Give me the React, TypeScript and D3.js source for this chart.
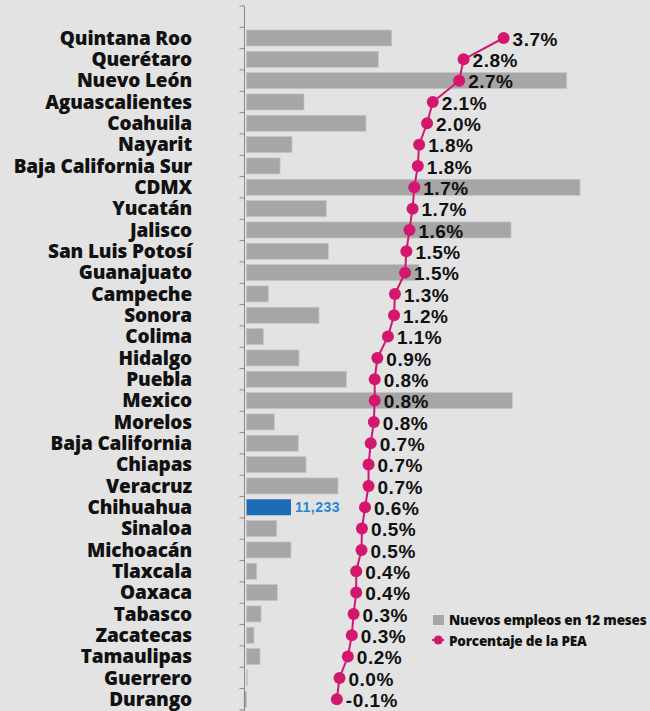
import React from 'react';
import * as d3 from 'd3';

// estados ordenados por porcentaje de la PEA
const states = [
  'Quintana Roo', 'Querétaro', 'Nuevo León', 'Aguascalientes', 'Coahuila', 'Nayarit',
  'Baja California Sur', 'CDMX', 'Yucatán', 'Jalisco', 'San Luis Potosí', 'Guanajuato',
  'Campeche', 'Sonora', 'Colima', 'Hidalgo', 'Puebla', 'Mexico', 'Morelos',
  'Baja California', 'Chiapas', 'Veracruz', 'Chihuahua', 'Sinaloa', 'Michoacán',
  'Tlaxcala', 'Oaxaca', 'Tabasco', 'Zacatecas', 'Tamaulipas', 'Guerrero', 'Durango',
];

// nuevos empleos en 12 meses
const empleos = [
  36650, 33270, 80820, 14510, 30160, 11480, 8460, 84180, 20140, 66760, 20650, 43540,
  5500, 18300, 4240, 13250, 25190, 67090, 7020, 13070, 15020, 23090, 11233, 7620,
  11230, 2570, 7770, 3660, 1890, 3410, 200, -630,
];

// porcentaje de la PEA
const pea = [
  3.73, 2.82, 2.72, 2.12, 1.99, 1.81, 1.78, 1.7, 1.66, 1.59, 1.52, 1.49,
  1.26, 1.24, 1.1, 0.86, 0.8, 0.8, 0.78, 0.71, 0.66, 0.66, 0.58, 0.51,
  0.5, 0.38, 0.38, 0.32, 0.28, 0.19, 0.0, -0.06,
];

const highlight = 'Chihuahua';

const legendItems = ['Nuevos empleos en 12 meses', 'Porcentaje de la PEA'];

const W = 650;
const H = 711;
const BG = '#e3e3e3';
const GRAY = '#a6a6a6';
const BLUE = '#1e6bb8';
const PINK = '#d3176f';
const LABEL_FONT = "'Open Sans', Lato, sans-serif";

const App = () => {
  const slots = ['', ...states];
  const y = d3.scaleBand<string>().domain(slots).range([6, 6 + 33 * 21.33]).paddingInner(0.25).paddingOuter(0.125);
  const xBar = d3.scaleLinear().domain([0, 90000]).range([246.5, 246.5 + 90000 / 252.4]);
  const xPct = d3.scaleLinear().domain([0, 1]).range([339.5, 383.5]);
  const fmt = d3.format(',');

  const cy = (s: string) => (y(s) ?? 0) + y.bandwidth() / 2;
  const pts = states.map((s, i) => ({ s, v: pea[i], x: xPct(pea[i]), y: cy(s) }));
  const line = d3.line<{ x: number; y: number }>().x(d => d.x).y(d => d.y);

  const step = y.step();
  const tickYs = d3.range(0, 34).map(i => 6 + i * step);

  return (
    <div style={{ position: 'absolute', left: 0, top: 0 }}>
      <svg width={W} height={H} style={{ display: 'block', background: BG }}>
        <rect width={W} height={H} fill={BG} />

        {/* barras */}
        {states.map((s, i) => {
          const v = empleos[i];
          const x0 = xBar(Math.min(0, v));
          const x1 = xBar(Math.max(0, v));
          const hl = s === highlight;
          return (
            <rect key={s} x={x0} y={y(s)} width={Math.max(0.5, x1 - x0)} height={y.bandwidth()}
              fill={hl ? BLUE : GRAY} stroke={hl ? 'none' : '#c4c4c4'} strokeWidth={0.8} />
          );
        })}
        {states.map((s, i) => s === highlight ? (
          <text key={'v' + s} x={xBar(empleos[i]) + 4} y={cy(s)} dy="0.35em"
            fontFamily="'Liberation Sans', Arial, sans-serif" fontWeight={700} fontSize={14}
            letterSpacing={0.5} fill="#2a86d6">{fmt(empleos[i])}</text>
        ) : null)}

        {/* eje */}
        <line x1={244.5} x2={244.5} y1={6} y2={H} stroke="#8a8a8a" strokeWidth={1} />
        {tickYs.map((t, i) => (
          <line key={i} x1={239.5} x2={244.5} y1={t} y2={t} stroke="#8a8a8a" strokeWidth={1} />
        ))}

        {/* nombres */}
        {states.map(s => (
          <text key={'n' + s} x={192} y={cy(s)} dy="0.36em" textAnchor="end"
            fontFamily={LABEL_FONT} fontWeight={800} fontSize={19} letterSpacing={-0.15}
            fill="#111">{s}</text>
        ))}

        {/* linea PEA */}
        <path d={line(pts) ?? ''} fill="none" stroke={PINK} strokeWidth={2} />
        {pts.map(p => (
          <circle key={'c' + p.s} cx={p.x} cy={p.y} r={6} fill={PINK} />
        ))}
        {pts.map(p => (
          <text key={'p' + p.s} x={p.x + 9} y={p.y + 1} dy="0.35em"
            fontFamily="'Liberation Sans', Arial, sans-serif" fontWeight={700} fontSize={19}
            letterSpacing={0.5} fill="#111">{p.v.toFixed(1) + '%'}</text>
        ))}

        {/* leyenda */}
        <rect x={433} y={615} width={11} height={10} fill={GRAY} />
        <text x={449} y={620} dy="0.35em" fontFamily={LABEL_FONT} fontWeight={800}
          fontSize={13.5} letterSpacing={-0.2} fill="#111">{legendItems[0]}</text>
        <line x1={432} x2={444} y1={640} y2={640} stroke={PINK} strokeWidth={2} />
        <circle cx={438.3} cy={640} r={4.5} fill={PINK} />
        <text x={449} y={641} dy="0.35em" fontFamily={LABEL_FONT} fontWeight={800}
          fontSize={13.5} letterSpacing={-0.2} fill="#111">{legendItems[1]}</text>
      </svg>
    </div>
  );
};

export default App;
